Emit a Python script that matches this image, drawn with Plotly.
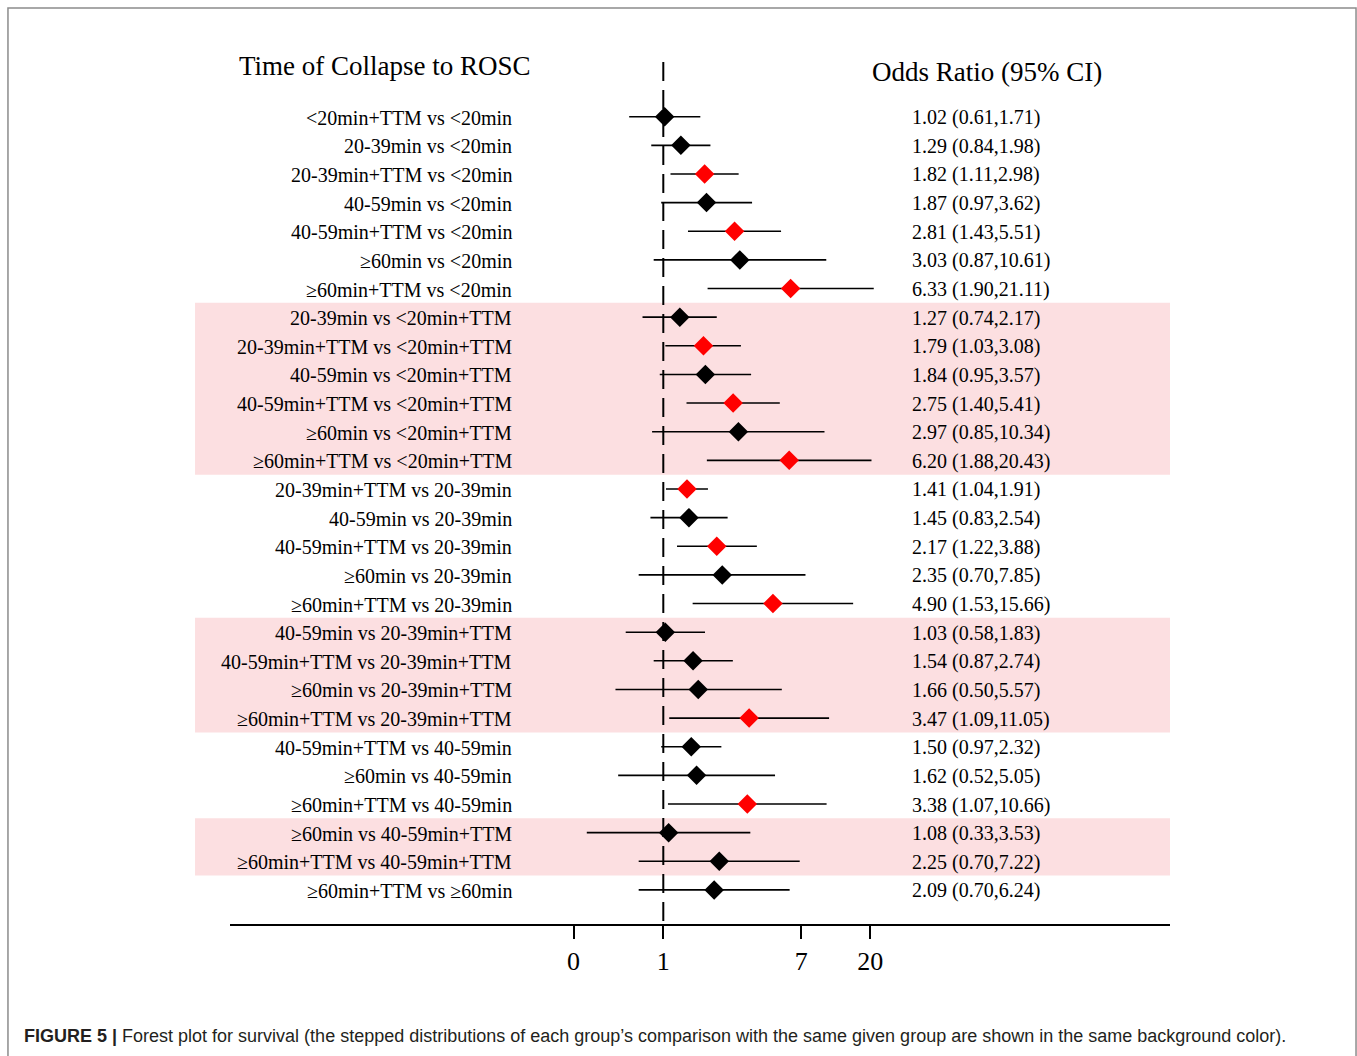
import math
import plotly.graph_objects as go

# ---------------- data ----------------
labels = [
    "<20min+TTM vs <20min",
    "20-39min vs <20min",
    "20-39min+TTM vs <20min",
    "40-59min vs <20min",
    "40-59min+TTM vs <20min",
    "\u226560min vs <20min",
    "\u226560min+TTM vs <20min",
    "20-39min vs <20min+TTM",
    "20-39min+TTM vs <20min+TTM",
    "40-59min vs <20min+TTM",
    "40-59min+TTM vs <20min+TTM",
    "\u226560min vs <20min+TTM",
    "\u226560min+TTM vs <20min+TTM",
    "20-39min+TTM vs 20-39min",
    "40-59min vs 20-39min",
    "40-59min+TTM vs 20-39min",
    "\u226560min vs 20-39min",
    "\u226560min+TTM vs 20-39min",
    "40-59min vs 20-39min+TTM",
    "40-59min+TTM vs 20-39min+TTM",
    "\u226560min vs 20-39min+TTM",
    "\u226560min+TTM vs 20-39min+TTM",
    "40-59min+TTM vs 40-59min",
    "\u226560min vs 40-59min",
    "\u226560min+TTM vs 40-59min",
    "\u226560min vs 40-59min+TTM",
    "\u226560min+TTM vs 40-59min+TTM",
    "\u226560min+TTM vs \u226560min",
]
odds = [1.02, 1.29, 1.82, 1.87, 2.81, 3.03, 6.33,
        1.27, 1.79, 1.84, 2.75, 2.97, 6.20,
        1.41, 1.45, 2.17, 2.35, 4.90,
        1.03, 1.54, 1.66, 3.47,
        1.50, 1.62, 3.38,
        1.08, 2.25,
        2.09]
ci_low = [0.61, 0.84, 1.11, 0.97, 1.43, 0.87, 1.90,
          0.74, 1.03, 0.95, 1.40, 0.85, 1.88,
          1.04, 0.83, 1.22, 0.70, 1.53,
          0.58, 0.87, 0.50, 1.09,
          0.97, 0.52, 1.07,
          0.33, 0.70,
          0.70]
ci_high = [1.71, 1.98, 2.98, 3.62, 5.51, 10.61, 21.11,
           2.17, 3.08, 3.57, 5.41, 10.34, 20.43,
           1.91, 2.54, 3.88, 7.85, 15.66,
           1.83, 2.74, 5.57, 11.05,
           2.32, 5.05, 10.66,
           3.53, 7.22,
           6.24]
significant = [False, False, True, False, True, False, True,
               False, True, False, True, False, True,
               True, False, True, False, True,
               False, False, False, True,
               False, False, True,
               False, False,
               False]
shaded_groups = [(8, 13), (19, 22), (26, 27)]  # row numbers (1-based)

tick_labels = ["0", "1", "7", "20"]
tick_values = [math.exp(-1.3), 1.0, math.exp(2.0), math.exp(3.0)]

header_left = "Time of Collapse to ROSC"
header_right = "Odds Ratio (95% CI)"
caption_bold = "FIGURE 5 |"
caption_text = (" Forest plot for survival (the stepped distributions of each group\u2019s "
                "comparison with the same given group are shown in the same background color).")

# ---------------- figure ----------------
rows = list(range(1, len(labels) + 1))
SERIF = "Liberation Serif, Times New Roman, serif"

fig = go.Figure()

# CI lines
lx, ly = [], []
for r, lo, hi in zip(rows, ci_low, ci_high):
    lx += [lo, hi, None]
    ly += [r, r, None]
fig.add_trace(go.Scatter(x=lx, y=ly, mode="lines",
                         line=dict(color="black", width=1.6),
                         hoverinfo="skip", showlegend=False))

# diamonds
fig.add_trace(go.Scatter(
    x=odds, y=rows, mode="markers",
    marker=dict(symbol="diamond", size=15,
                color=["#FF0000" if s else "#000000" for s in significant],
                line=dict(width=0)),
    showlegend=False))

shapes = []
# shading bands
for a, b in shaded_groups:
    shapes.append(dict(type="rect", xref="paper", yref="y",
                       x0=-0.0372, x1=1.0, y0=a - 0.5, y1=b + 0.5,
                       fillcolor="#FCDFE1", line=dict(width=0), layer="below"))
# reference dashed line at OR = 1
shapes.append(dict(type="line", xref="x", yref="paper", x0=1, x1=1, y0=0.975, y1=0.0,
                   line=dict(color="black", width=2, dash="19px,9px")))
# outer frame
shapes.append(dict(type="rect", xref="paper", yref="paper",
                   x0=-0.2362, x1=1.1979, y0=1.0362, y1=-0.2,
                   line=dict(color="#8C8C8C", width=1.5), fillcolor="rgba(0,0,0,0)"))

annotations = []
for r, lab, o, lo, hi in zip(rows, labels, odds, ci_low, ci_high):
    annotations.append(dict(x=0.302, xref="paper", y=r, yref="y", text=lab,
                            xanchor="right", yanchor="middle", showarrow=False, yshift=-1,
                            font=dict(family=SERIF, size=20, color="black")))
    annotations.append(dict(x=0.7234, xref="paper", y=r, yref="y",
                            text=f"{o:.2f} ({lo:.2f},{hi:.2f})",
                            xanchor="left", yanchor="middle", showarrow=False, yshift=-1,
                            font=dict(family=SERIF, size=20, color="black")))
annotations.append(dict(x=0.1644, xref="paper", y=-0.77, yref="y", text=header_left,
                        xanchor="center", yanchor="middle", showarrow=False,
                        font=dict(family=SERIF, size=27, color="black")))
annotations.append(dict(x=0.805, xref="paper", y=-0.56, yref="y", text=header_right,
                        xanchor="center", yanchor="middle", showarrow=False,
                        font=dict(family=SERIF, size=27, color="black")))
annotations.append(dict(x=-0.2213, xref="paper", y=-0.1267, yref="paper",
                        text=f"<b>{caption_bold}</b>{caption_text}",
                        xanchor="left", yanchor="middle", showarrow=False,
                        font=dict(family="Liberation Sans, Arial, sans-serif", size=18,
                                  color="#231F20")))

fig.update_layout(
    width=1357, height=1056,
    margin=dict(l=230, r=187, t=40, b=132),
    paper_bgcolor="white", plot_bgcolor="rgba(0,0,0,0)",
    shapes=shapes, annotations=annotations,
    xaxis=dict(type="log", range=[-2.727, 3.189],
               showgrid=False, zeroline=False,
               showline=True, linecolor="black", linewidth=2,
               ticks="outside", ticklen=13, tickwidth=2, tickcolor="black",
               tickvals=tick_values, ticktext=tick_labels,
               tickfont=dict(family=SERIF, size=26, color="black")),
    yaxis=dict(range=[29.19, -1.678], visible=False, showgrid=False, zeroline=False),
)

fig.write_html("out.html", config={"displayModeBar": False},
               post_script="document.body.style.margin='0';document.body.style.overflow='hidden';")
